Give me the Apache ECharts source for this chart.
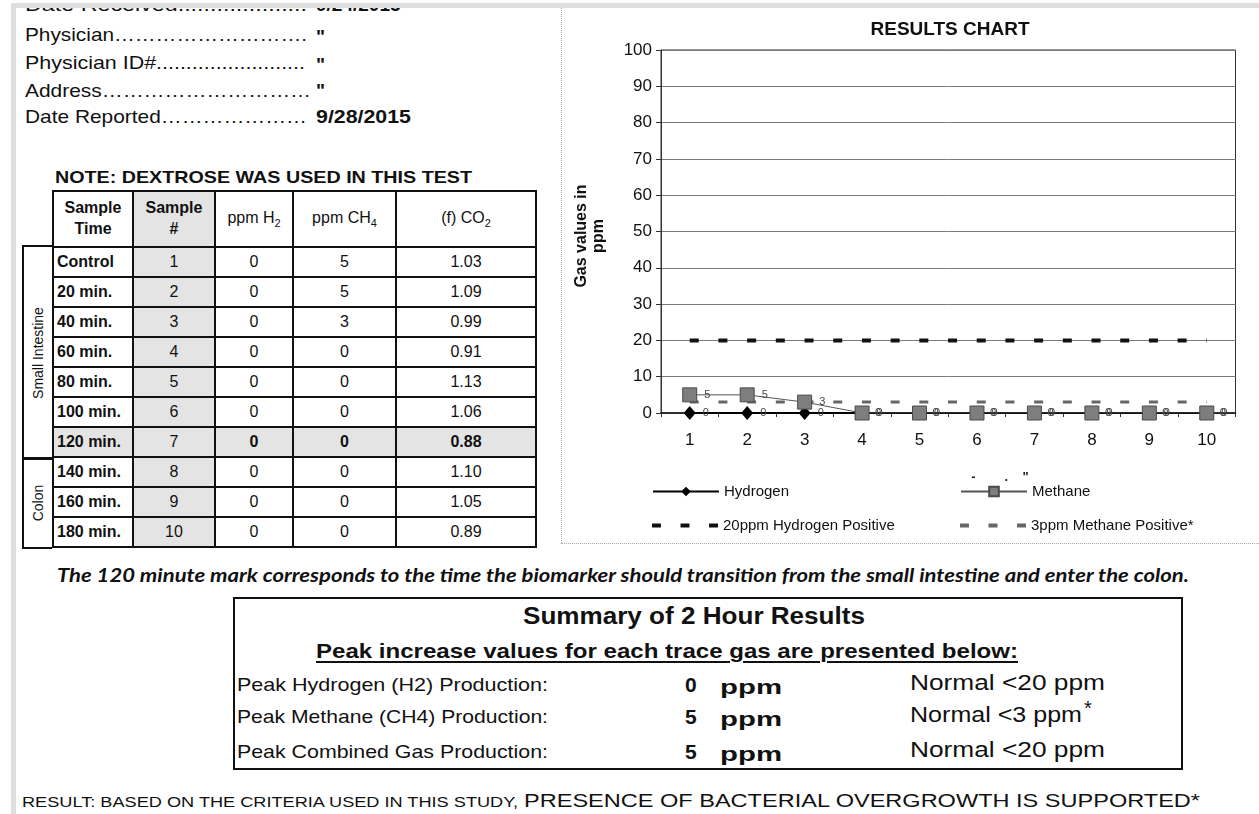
<!DOCTYPE html>
<html>
<head>
<meta charset="utf-8">
<script src="https://cdn.jsdelivr.net/npm/echarts@6/dist/echarts.min.js"></script>
<style>
  html, body { margin:0; padding:0; background:#fff; }
  body { width:1259px; height:814px; position:relative; overflow:hidden; font-family:"Liberation Sans", Arial, sans-serif; color:#111; }
  .abs { position:absolute; white-space:nowrap; line-height:1; }
  .fit { display:inline-block; transform-origin:0 50%; }
  #topband { position:absolute; left:11px; top:3px; width:1248px; height:5px; background:#dedede; z-index:5; }
  #topcover { position:absolute; left:0; top:0; width:1259px; height:3px; background:#fff; z-index:5; }
  #leftband { position:absolute; left:11px; top:3px; width:5px; height:811px; background:#dedede; z-index:5; }
  #vsep { position:absolute; left:561px; top:8px; width:0; height:535px; border-left:1px dotted #aaa; }
  #hsep { position:absolute; left:561px; top:543px; width:698px; height:0; border-top:1px dotted #aaa; }
  #chart { position:absolute; left:562px; top:8px; width:697px; height:535px; }
  table.data { position:absolute; left:52px; top:190px; border-collapse:collapse; font-size:16px; }
  table.data td { border:2px solid #111; height:28px; padding:0; text-align:center; }
  table.data td.time { text-align:left; font-weight:bold; padding-left:3px; }
  table.data th { border:2px solid #111; height:54px; padding:0; font-size:16px; line-height:1.3; }
  table.data th.n { font-weight:normal; }
  .shade { background:#e4e4e4; }
  .side { position:absolute; left:22px; width:28px; border:2px solid #111; border-right:none; }
  .side span { position:absolute; left:50%; top:50%; transform:translate(-50%,-50%) rotate(-90deg); font-size:14px; white-space:nowrap; }
  #summary { position:absolute; left:233px; top:597px; width:946px; height:169px; border:2px solid #111; }
</style>
</head>
<body>
<div id="topcover"></div>
<div id="topband"></div>
<div id="leftband"></div>

<!-- header lines -->
<div class="abs" style="left:25px; top:-5px; font-size:19px;"><span class="fit" data-w="282">Date Received....................</span></div>
<div class="abs" style="left:316px; top:-5px; font-size:19px; font-weight:bold;">9/24/2015</div>

<div class="abs" style="left:25px; top:25px; font-size:19px;"><span class="fit" data-w="282">Physician……………………….</span></div>
<div class="abs" style="left:316px; top:27px; font-size:19px; font-weight:bold;">"</div>

<div class="abs" style="left:25px; top:53px; font-size:19px;"><span class="fit" data-w="280">Physician ID#.........................</span></div>
<div class="abs" style="left:316px; top:55px; font-size:19px; font-weight:bold;">"</div>

<div class="abs" style="left:25px; top:81px; font-size:19px;"><span class="fit" data-w="286">Address…………………………</span></div>
<div class="abs" style="left:316px; top:81px; font-size:19px; font-weight:bold;">"</div>

<div class="abs" style="left:25px; top:107px; font-size:19px;"><span class="fit" data-w="282">Date Reported…………………</span></div>
<div class="abs" style="left:316px; top:107px; font-size:19px; font-weight:bold;"><span class="fit" data-w="95">9/28/2015</span></div>

<div class="abs" style="left:55px; top:169px; font-size:17px; font-weight:bold;"><span class="fit" data-w="417">NOTE: DEXTROSE WAS USED IN THIS TEST</span></div>

<table class="data" id="tbl">
  <colgroup><col style="width:80px"><col style="width:82px"><col style="width:78px"><col style="width:103px"><col style="width:140px"></colgroup>
  <thead><tr>
    <th>Sample<br>Time</th>
    <th class="shade">Sample<br>#</th>
    <th class="n">ppm H<sub style="font-size:11px">2</sub></th>
    <th class="n">ppm CH<sub style="font-size:11px">4</sub></th>
    <th class="n">(f) CO<sub style="font-size:11px">2</sub></th>
  </tr></thead>
  <tbody id="tbody"></tbody>
</table>
<div class="side" style="top:245px; height:211px;"><span>Small Intestine</span></div>
<div class="side" style="top:457px; height:88px;"><span>Colon</span></div>

<div id="vsep"></div>
<div id="hsep"></div>
<div id="chart"></div>

<div class="abs" style="left:57px; top:565px; font-size:19px; font-weight:bold; font-style:italic; font-family:Lato, 'Open Sans', sans-serif;"><span class="fit" data-w="1132">The 120 minute mark corresponds to the time the biomarker should transition from the small intestine and enter the colon.</span></div>

<div id="summary"></div>
<div class="abs" style="left:523px; top:605px; font-size:23px; font-weight:bold; font-family:'Liberation Sans Narrow','Liberation Sans',sans-serif;"><span class="fit" data-w="342">Summary of 2 Hour Results</span></div>
<div class="abs" style="left:316px; top:640px; font-size:21px; font-weight:bold; font-family:'Liberation Sans Narrow','Liberation Sans',sans-serif;"><span class="fit" data-w="702" style="text-decoration:underline; text-decoration-thickness:2px; text-underline-offset:3px;">Peak increase values for each trace gas are presented below:</span></div>

<div id="sumrows"></div>

<div class="abs" style="left:22px; top:794px; font-size:15px; font-family:'Liberation Sans Narrow','Liberation Sans',sans-serif;"><span class="fit" data-w="496">RESULT: BASED ON THE CRITERIA USED IN THIS STUDY,</span></div>
<div class="abs" style="left:524px; top:791px; font-size:19px; font-family:'Liberation Sans Narrow','Liberation Sans',sans-serif;"><span class="fit" data-w="676">PRESENCE OF BACTERIAL OVERGROWTH IS SUPPORTED*</span></div>

<script>
// ---------- Table data ----------
const sampleTimes = ['Control','20 min.','40 min.','60 min.','80 min.','100 min.','120 min.','140 min.','160 min.','180 min.'];
const sampleNums  = ['1','2','3','4','5','6','7','8','9','10'];
const ppmH2       = ['0','0','0','0','0','0','0','0','0','0'];
const ppmCH4      = ['5','5','3','0','0','0','0','0','0','0'];
const fCO2        = ['1.03','1.09','0.99','0.91','1.13','1.06','0.88','1.10','1.05','0.89'];

// ---------- Chart data ----------
const categories   = ['1','2','3','4','5','6','7','8','9','10'];
const hydrogen     = [0, 0, 0, 0, 0, 0, 0, 0, 0, 0];
const methane      = [5, 5, 3, 0, 0, 0, 0, 0, 0, 0];
const h2Positive   = [20, 20, 20, 20, 20, 20, 20, 20, 20, 20];
const ch4Positive  = [3, 3, 3, 3, 3, 3, 3, 3, 3, 3];

// ---------- Summary data ----------
const summaryLabels = ['Peak Hydrogen (H2) Production:','Peak Methane (CH4) Production:','Peak Combined Gas Production:'];
const summaryValues = ['0','5','5'];
const summaryNormals = ['Normal <20 ppm','Normal <3 ppm','Normal <20 ppm'];

// build table
const tb = document.getElementById('tbody');
sampleTimes.forEach((t, i) => {
  const tr = document.createElement('tr');
  const hl = (i === 6);
  const b = hl ? 'font-weight:bold;' : '';
  tr.innerHTML =
    `<td class="time${hl?' shade':''}">${t}</td>` +
    `<td class="shade">${sampleNums[i]}</td>` +
    `<td class="${hl?'shade':''}" style="${b}">${ppmH2[i]}</td>` +
    `<td class="${hl?'shade':''}" style="${b}">${ppmCH4[i]}</td>` +
    `<td class="${hl?'shade':''}" style="${b}">${fCO2[i]}</td>`;
  tb.appendChild(tr);
});

// build summary rows
const rowsY = [675, 707, 742];
const sr = document.getElementById('sumrows');
summaryLabels.forEach((l, i) => {
  const y = rowsY[i];
  sr.insertAdjacentHTML('beforeend',
    `<div class="abs" style="left:237px; top:${y}px; font-size:19px; font-family:'Liberation Sans Narrow','Liberation Sans',sans-serif;"><span class="fit" data-w="311">${l}</span></div>` +
    `<div class="abs" style="left:685px; top:${y-1}px; font-size:21px; font-weight:bold; font-family:'Liberation Sans Narrow','Liberation Sans',sans-serif;">${summaryValues[i]}</div>` +
    `<div class="abs" style="left:720px; top:${y+1}px; font-size:21px; font-weight:bold; font-family:'Liberation Sans Narrow','Liberation Sans',sans-serif;"><span class="fit" data-w="62">ppm</span></div>` +
    `<div class="abs" style="left:910px; top:${y-3}px; font-size:22px; font-family:'Liberation Sans Narrow','Liberation Sans',sans-serif;"><span class="fit" data-w="${i===1?172:195}">${summaryNormals[i]}</span></div>` +
    (i===1 ? `<div class="abs" style="left:1084px; top:${y-9}px; font-size:20px; font-family:'Liberation Sans',sans-serif;">*</div>` : '')
  );
});

// fit widths
document.querySelectorAll('.fit').forEach(el => {
  const w = parseFloat(el.getAttribute('data-w'));
  const actual = el.getBoundingClientRect().width;
  if (actual > 0) el.style.transform = `scaleX(${w / actual})`;
});

// ---------- Chart ----------
const chart = echarts.init(document.getElementById('chart'), null, { renderer: 'canvas' });
const font = 'Liberation Sans, Arial, sans-serif';
const dash = [9, 19.7];
const dashIcon = 'path://M0,0h9v4h-9z M28.7,0h9v4h-9z M57.4,0h9v4h-9z';
const legendText = { fontSize: 15, color: '#111', fontFamily: font };
function lg(item, left, top, h) {
  return { data: [item], left: left, top: top, itemWidth: 66, itemHeight: h || 12, itemGap: 0,
           selectedMode: false, textStyle: legendText, padding: 0 };
}
chart.setOption({
  animation: false,
  textStyle: { fontFamily: font },
  grid: { left: 99, right: 23.5, top: 42, bottom: 130, show: true, borderColor: '#333', borderWidth: 1, backgroundColor: 'transparent' },
  graphic: [
    { type: 'text', x: 388, y: 22, style: { text: 'RESULTS CHART', fontSize: 19, fontWeight: 'bold', fill: '#111', textAlign: 'center', textVerticalAlign: 'middle', fontFamily: font } },
    { type: 'text', x: 28, y: 228, rotation: Math.PI / 2, style: { text: 'Gas values in\nppm', fontSize: 16, fontWeight: 'bold', fill: '#111', textAlign: 'center', textVerticalAlign: 'middle', lineHeight: 17, fontFamily: font } },
    { type: 'text', x: 438, y: 469, style: { text: '-        .    "', fontSize: 13, fontWeight: 'bold', fill: '#222', textAlign: 'center', textVerticalAlign: 'middle', fontFamily: font } }
  ],
  legend: [
    lg('Hydrogen', 90, 476),
    lg('Methane', 398, 476),
    lg({ name: '20ppm Hydrogen Positive', icon: dashIcon }, 90, 510, 4),
    lg({ name: '3ppm Methane Positive*', icon: dashIcon }, 398, 510, 4)
  ],
  xAxis: {
    type: 'category', data: categories, boundaryGap: true,
    axisLine: { lineStyle: { color: '#111', width: 1.5 } },
    axisTick: { show: true, length: 4, inside: false, lineStyle: { color: '#333' } },
    axisLabel: { fontSize: 17, color: '#111', margin: 19, fontFamily: font },
    splitLine: { show: false }
  },
  yAxis: {
    type: 'value', min: 0, max: 100, interval: 10,
    axisLine: { show: true, lineStyle: { color: '#333', width: 1 } },
    axisTick: { show: true, length: 5, lineStyle: { color: '#333' } },
    axisLabel: { fontSize: 17, color: '#111', margin: 9, fontFamily: font },
    splitLine: { lineStyle: { color: '#7a7a7a', width: 1 } }
  },
  series: [
    { name: '20ppm Hydrogen Positive', type: 'line', data: h2Positive, symbol: 'none',
      lineStyle: { color: '#111', width: 4, type: dash }, itemStyle: { color: '#111' }, z: 2 },
    { name: '3ppm Methane Positive*', type: 'line', data: ch4Positive, symbol: 'none',
      lineStyle: { color: '#666', width: 3, type: dash }, itemStyle: { color: '#666' }, z: 2 },
    { name: 'Hydrogen', type: 'line', data: hydrogen, symbol: 'diamond', symbolSize: [12, 14],
      lineStyle: { color: '#000', width: 2 }, itemStyle: { color: '#000' }, z: 3,
      label: { show: true, position: 'right', distance: 7, fontSize: 11, color: '#444', fontFamily: font } },
    { name: 'Methane', type: 'line', data: methane, symbol: 'rect', symbolSize: 14,
      lineStyle: { color: '#555', width: 1 }, itemStyle: { color: '#7e7e7e', borderColor: '#4a4a4a', borderWidth: 1 }, z: 4,
      label: { show: true, position: 'right', distance: 7, fontSize: 11, color: '#444', fontFamily: font } }
  ]
});
</script>
</body>
</html>
